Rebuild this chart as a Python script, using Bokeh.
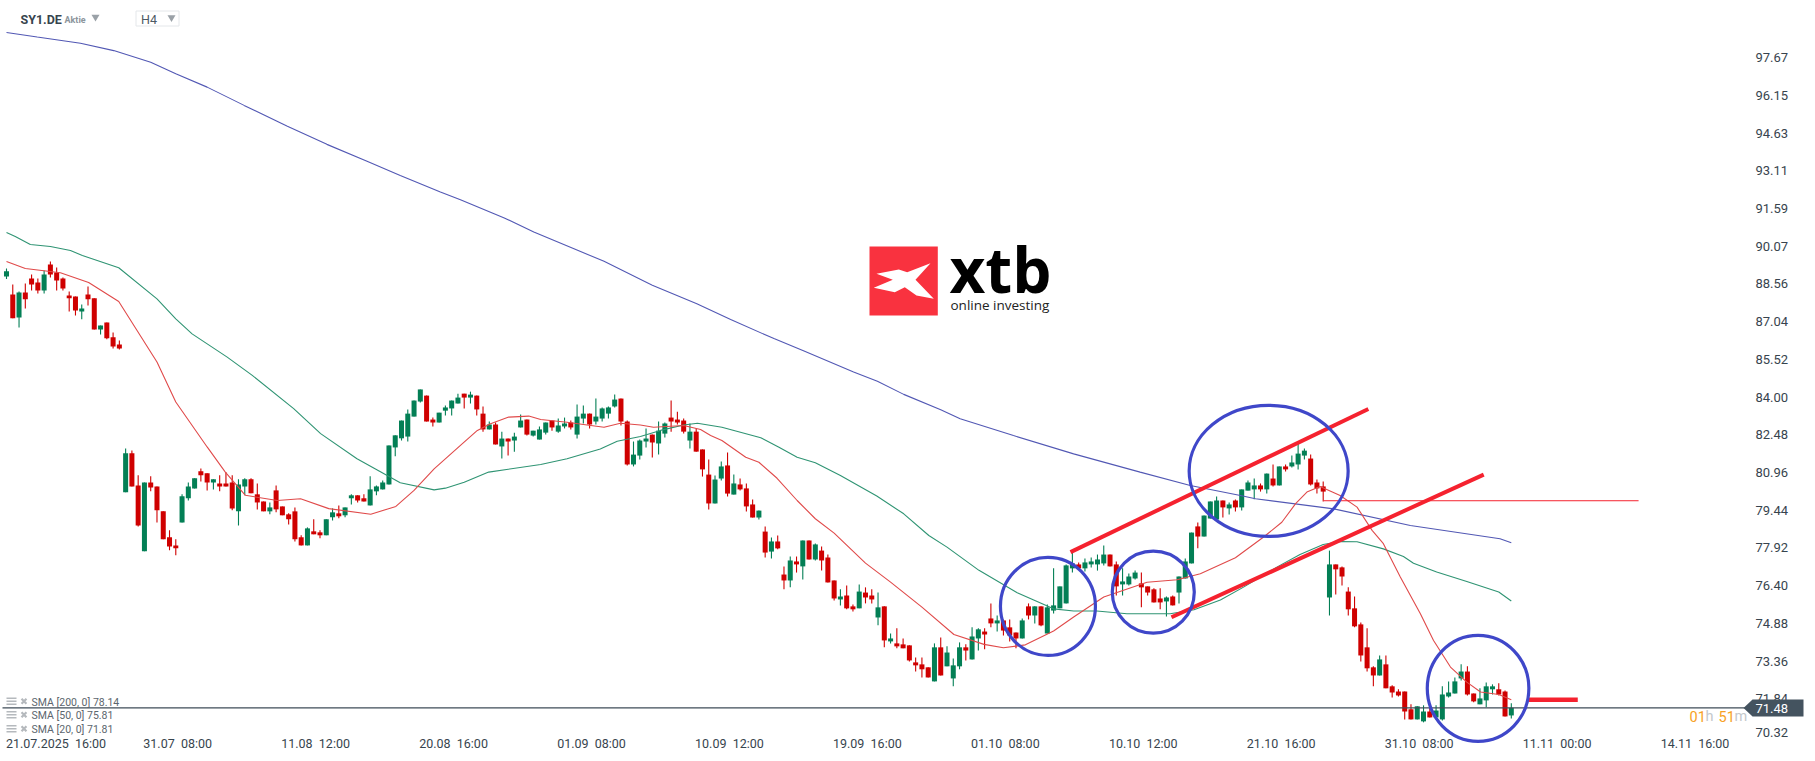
from bokeh.core.properties import value
from bokeh.embed import file_html
from bokeh.resources import INLINE
from bokeh.plotting import figure
from bokeh.models import FixedTicker, Label

symbol = "SY1.DE"
last_price = 71.48

opens = [88.96,88.23,87.30,88.31,88.88,88.71,88.39,89.44,89.12,88.88,
88.19,88.15,87.54,88.23,88.07,86.81,87.09,86.49,86.20,80.21,
81.79,80.49,77.82,80.61,80.45,79.44,78.39,78.06,78.99,79.97,
80.37,81.06,80.98,80.61,80.57,80.57,80.61,79.44,80.45,80.74,
80.13,79.84,79.44,80.29,79.64,79.32,79.44,78.39,78.06,78.63,
78.59,78.47,79.20,79.36,79.28,79.97,80.09,79.97,79.68,80.25,
80.33,80.53,82.03,82.40,82.47,83.28,83.89,84.13,83.16,83.04,
83.52,83.61,83.81,84.21,84.05,84.13,83.40,82.76,82.96,82.07,
82.39,82.31,82.84,83.16,82.51,82.35,82.63,83.12,82.67,82.88,
83.04,82.55,83.20,83.40,83.08,83.20,83.40,83.69,84.01,83.08,
81.34,81.70,82.27,82.55,82.19,82.59,83.24,83.16,83.12,82.31,
82.67,81.95,80.93,79.76,80.77,81.30,80.12,80.53,80.37,79.72,
79.19,78.62,77.81,78.22,76.88,76.64,77.41,77.21,78.26,77.49,
77.85,77.57,76.64,75.87,76.03,75.59,75.51,76.15,76.03,75.14,
75.59,74.17,74.09,74.05,74.01,73.32,73.24,73.12,72.55,73.93,
73.16,72.67,73.16,73.93,73.44,74.29,74.57,75.10,74.90,75.02,
74.74,74.53,74.29,75.59,75.22,75.59,74.49,75.42,75.51,75.71,
77.13,77.29,77.13,77.29,77.29,77.33,77.69,77.29,76.48,76.48,
76.72,76.52,76.40,76.28,75.91,75.79,75.99,76.15,76.72,77.33,
78.83,78.42,79.15,79.11,79.88,79.56,79.88,79.60,80.28,80.33,
80.49,80.33,80.77,80.49,81.26,81.26,81.34,81.70,81.58,80.61,
80.45,75.95,77.29,77.17,76.19,75.51,74.86,73.93,73.12,72.79,
73.24,72.35,72.14,72.14,71.42,71.01,70.93,71.33,71.09,71.01,
71.94,72.06,72.67,72.95,72.06,71.62,71.78,72.23,72.23,72.14,71.17]

closes = [89.17,87.26,88.31,88.03,88.63,88.39,89.04,89.04,88.79,88.47,
88.07,87.58,87.66,88.03,86.81,86.97,86.45,86.12,86.04,81.79,
80.45,78.87,80.61,80.41,79.48,78.31,78.02,77.94,80.05,80.45,
80.78,80.90,80.61,80.74,80.45,80.45,79.56,80.53,80.74,80.17,
79.80,79.44,79.60,79.52,79.28,79.12,78.31,78.06,78.75,78.51,
78.47,79.12,79.40,79.24,79.60,80.09,79.88,79.84,80.33,80.45,
80.61,82.11,82.52,83.12,83.40,83.93,84.38,83.08,83.04,83.44,
83.65,83.93,84.05,84.05,84.17,83.57,82.76,82.96,82.15,82.39,
82.27,82.47,83.12,82.55,82.71,82.76,83.04,82.84,82.92,83.00,
82.84,83.28,83.40,82.96,83.28,83.61,83.65,83.97,83.08,81.34,
81.74,82.31,82.39,82.23,82.71,83.00,83.08,83.04,82.67,82.67,
81.86,81.14,79.76,80.73,81.26,80.16,80.57,80.33,79.64,79.19,
79.47,77.77,78.22,77.94,76.64,77.45,77.29,78.26,77.49,78.10,
77.45,76.56,75.91,75.99,75.51,75.47,76.19,75.95,75.87,75.55,
74.21,74.29,73.97,73.89,73.40,73.20,73.04,72.71,73.93,72.79,
73.72,73.20,73.93,73.80,74.37,74.66,74.45,74.90,75.02,74.61,
74.41,74.29,75.02,75.22,75.59,74.82,75.55,75.63,76.40,77.25,
77.33,77.13,77.37,77.41,77.49,77.69,77.21,76.40,76.60,76.80,
76.96,76.36,76.15,75.75,75.75,75.95,75.63,76.80,77.41,78.58,
78.42,79.27,79.84,79.88,79.60,79.72,79.60,80.33,80.61,80.49,
80.33,80.97,80.49,81.26,81.14,81.42,81.78,81.90,80.53,80.37,
80.24,77.29,77.09,76.80,75.47,74.78,73.60,73.08,72.79,73.44,
72.27,72.10,71.98,71.33,71.01,71.54,71.33,71.09,71.37,72.02,
72.10,72.55,72.95,72.02,71.74,71.86,72.35,72.35,72.02,71.13,71.48]

highs = [89.28,88.63,88.35,88.67,89.04,88.88,89.20,89.56,89.32,88.92,
88.35,88.15,87.82,88.55,88.07,86.97,87.09,86.69,86.36,81.99,
81.91,80.90,80.61,80.86,80.45,79.44,78.67,78.31,80.13,80.61,
80.78,81.18,80.98,80.74,80.90,81.02,80.90,80.74,80.78,80.78,
80.57,79.84,79.80,80.49,79.64,79.36,79.60,78.47,78.79,79.12,
78.67,79.12,79.56,79.68,79.60,80.13,80.09,80.13,80.86,80.49,
80.69,82.11,82.52,83.12,83.57,83.93,84.38,84.13,83.24,83.44,
83.73,83.93,84.21,84.21,84.29,84.13,83.69,83.08,83.04,82.67,
82.39,82.63,83.36,83.16,82.71,82.88,83.04,83.12,83.20,83.24,
83.12,83.77,83.73,83.40,84.01,83.65,83.69,84.17,84.01,83.12,
82.27,82.35,82.80,82.55,83.08,83.04,83.93,83.48,83.20,83.00,
82.80,81.95,81.54,80.89,81.46,81.82,80.93,80.77,80.57,79.92,
79.47,78.83,78.38,78.46,77.21,77.61,77.61,78.26,78.26,78.14,
78.02,77.69,76.64,76.28,76.44,75.67,76.48,76.36,76.28,76.15,
75.59,74.49,74.70,74.29,74.01,73.52,73.52,73.12,74.09,74.33,
73.97,73.48,74.13,74.05,74.74,74.70,74.70,75.71,75.22,75.06,
75.06,74.53,75.10,75.71,75.59,75.59,75.67,77.13,76.40,77.29,
77.81,77.37,77.53,77.57,77.69,78.06,77.69,77.41,77.13,76.92,
77.04,76.96,76.40,76.32,76.32,75.99,76.03,76.80,77.53,78.58,
78.99,79.27,79.84,80.04,79.88,79.80,79.92,80.33,80.69,80.77,
80.57,80.97,81.34,81.26,81.34,81.70,82.19,81.99,81.74,80.73,
80.65,77.85,77.29,77.21,76.36,75.99,74.94,74.70,73.16,73.60,
73.60,72.39,72.23,72.14,71.62,71.54,71.58,71.50,71.58,72.35,
72.55,72.71,73.24,73.16,72.06,72.27,72.51,72.43,72.47,72.18,71.66]

lows = [88.85,87.26,86.89,87.66,88.39,88.27,88.27,88.92,88.39,88.39,
87.54,87.38,87.22,87.78,86.81,86.61,86.41,86.04,86.00,80.21,
80.45,78.83,77.82,80.25,78.99,78.31,77.86,77.66,78.99,79.88,
80.37,80.65,80.29,80.33,80.25,80.45,79.48,78.87,80.09,80.17,
79.52,79.44,79.32,79.40,79.28,78.91,78.22,78.06,78.06,78.51,
78.35,78.47,79.07,79.16,79.20,79.72,79.80,79.84,79.68,80.09,
80.33,80.53,81.67,82.31,82.27,83.28,83.85,83.08,82.88,83.04,
83.32,83.32,83.81,83.61,83.81,83.32,82.67,82.76,82.15,81.58,
81.70,81.86,82.84,82.51,82.47,82.35,82.55,82.71,82.63,82.80,
82.76,82.39,83.00,82.80,82.96,83.08,83.20,83.65,82.92,81.30,
81.26,81.54,82.03,81.62,81.74,82.43,82.67,82.96,82.59,81.99,
81.86,80.85,79.52,79.76,80.69,80.04,80.12,80.28,79.43,79.19,
79.11,77.57,77.53,77.90,76.28,76.36,76.96,76.68,77.49,77.45,
77.04,76.56,75.83,75.63,75.47,75.38,75.51,75.71,75.71,74.82,
73.93,74.09,73.89,73.89,73.36,72.95,72.71,72.71,72.55,72.79,
73.16,72.35,73.04,73.40,73.44,73.80,73.85,74.74,74.57,74.41,
74.17,73.89,74.29,75.06,74.90,74.78,74.49,75.30,75.51,75.71,
76.96,77.13,77.00,77.17,77.04,77.25,77.21,76.03,76.03,76.44,
76.68,75.55,76.03,75.75,75.47,75.18,75.63,75.71,76.72,77.33,
77.94,78.42,79.15,79.11,79.19,79.31,79.43,79.47,80.28,79.93,
80.24,80.16,80.45,80.49,81.05,81.22,81.14,81.54,80.49,80.16,
79.84,75.22,76.07,76.44,75.22,74.74,73.36,72.95,72.35,72.79,
72.27,71.90,71.94,71.01,71.01,71.01,70.89,71.09,71.01,70.97,
71.90,72.06,72.59,71.98,71.70,71.62,71.50,72.02,71.98,71.13,71.05]

sma200_bar = [0,4.9,11.8,17.1,23,27,32,37.9,44.8,51.1,57.5,62.8,69.2,72.4,79.3,84.1,90.7,95.3,103,110.1,115.5,122.4,127.2,135.1,138.9,143.1,149,152.1,160.6,170.2,180.8,188.8,196.8,199.2,211.7,223.9,238.2,240]
sma200_val = [98.84,98.66,98.41,98.11,97.64,97.17,96.63,95.89,95.04,94.31,93.63,93.05,92.38,92.07,91.34,90.76,90.06,89.57,88.60,87.85,87.21,86.44,85.94,85.09,84.71,84.18,83.56,83.19,82.51,81.77,81.03,80.49,80.08,79.95,79.54,78.87,78.33,78.17]
sma50_bar = [0,1.4,3.8,7,10.2,12.1,17.9,24,27,29.6,35.2,39.2,45.8,50.1,55.9,62.8,68.2,70,73,76.9,85.2,89.4,94.7,97.4,101.1,104.3,108,110.2,114.1,120.3,123.2,126.1,129,133,138.8,143.1,147.1,150,155.1,161.2,167,170.2,173.9,178.7,185.6,189.4,193.6,197.3,202.6,206.3,210,212.7,215.4,219.6,222.8,224.4,228.1,232.9,238,240]
sma50_val = [90.74,90.58,90.25,90.17,90.01,89.81,89.31,88.05,87.24,86.63,85.69,84.95,83.60,82.59,81.57,80.60,80.31,80.38,80.62,81.03,81.34,81.57,81.97,82.28,82.47,82.72,82.94,83.01,82.85,82.42,82.04,81.63,81.41,80.89,80.06,79.34,78.46,77.99,77.05,76.14,75.49,75.40,75.40,75.29,75.29,75.45,75.85,76.37,77.18,77.69,78.10,78.22,78.21,77.92,77.61,77.34,76.98,76.60,76.17,75.81]
sma20_bar = [0,3,8.6,13.1,17.9,24,27,32,34.9,38.1,43.2,46.9,51.4,58.1,62.1,65,68.2,72.4,75.1,77.2,80.1,83.3,85.2,89.4,92.6,95.3,97.9,101.1,103.2,108,110.7,112.3,114.1,117.9,120,122.9,126.1,129,132,137,141,146,151.1,155.9,159,162.5,167,170.2,175,181.9,186.7,190.4,196,200.5,203.4,205.6,207.4,209.5,212.7,215.4,217.8,219.6,222.3,225.5,227.6,230.3,232.9,235.1,238,240]
sma20_val = [89.56,89.28,89.11,88.71,87.94,85.49,83.87,82.05,81.03,80.09,79.88,79.95,79.55,79.32,79.64,80.29,81.16,82.11,82.72,82.99,83.26,83.30,83.16,83.05,82.94,82.85,83.01,82.94,82.85,82.92,82.76,82.51,82.31,81.63,81.43,80.78,79.88,79.14,78.56,77.34,76.57,75.56,74.45,74.05,73.91,74.03,74.59,75.16,75.97,76.57,76.67,76.91,77.56,78.40,79.00,79.75,80.22,80.45,80.08,79.61,78.67,78.13,76.78,75.29,74.21,73.13,72.52,72.12,72.02,71.81]

price_tick_labels = ["97.67","96.15","94.63","93.11","91.59","90.07","88.56","87.04","85.52","84.00","82.48","80.96","79.44","77.92","76.40","74.88","73.36","71.84","70.32"]
date_tick_labels = ["21.07.2025\u00a0\u00a016:00","31.07\u00a0\u00a008:00","11.08\u00a0\u00a012:00","20.08\u00a0\u00a016:00","01.09\u00a0\u00a008:00","10.09\u00a0\u00a012:00","19.09\u00a0\u00a016:00","01.10\u00a0\u00a008:00","10.10\u00a0\u00a012:00","21.10\u00a0\u00a016:00","31.10\u00a0\u00a008:00","11.11\u00a0\u00a000:00","14.11\u00a0\u00a016:00"]
date_tick_bars = [7.9,27.3,49.3,71.3,93.3,115.3,137.3,159.3,181.3,203.3,225.3,247.3,269.3]
legend_labels = ["SMA [200, 0] 78.14","SMA [50, 0] 75.81","SMA [20, 0] 71.81"]

# layout helpers: pixel position in the window -> chart coordinates
W, H = 1815, 761
BAR0, BARW = 6.0, 6.27
PX_Y0, PPP = 707.3, 0.04052
LABEL_PPP = 0.04029  # vertical spacing of the printed price labels
def X(px): return (px - BAR0) / BARW
def Y(py): return last_price + (PX_Y0 - py) * PPP

p = figure(width=W, height=H, output_backend="svg", toolbar_location=None,
           x_range=(X(0), X(W)), y_range=(Y(H), Y(0)),
           x_axis_location="below", y_axis_location="right",
           min_border=0, margin=(0, 0, 0, 0), outline_line_color=None,
           background_fill_color="white", border_fill_color="white")
p.grid.visible = False

INK = "#37444e"
p.yaxis.fixed_location = X(1755)
# the lowest label sits a little higher than its level, to clear the price tag
label_px = [PX_Y0 - (float(v) - last_price) / LABEL_PPP for v in price_tick_labels]
label_px[-1] = 731.7
tick_pos = [round(Y(v), 3) for v in label_px]
p.yaxis.ticker = FixedTicker(ticks=tick_pos)
p.yaxis.major_label_overrides = {t: s for t, s in zip(tick_pos, price_tick_labels)}
p.xaxis.fixed_location = Y(735)
p.xaxis.ticker = FixedTicker(ticks=date_tick_bars)
p.xaxis.major_label_overrides = {t: s for t, s in zip(date_tick_bars, date_tick_labels)}
for ax in (p.xaxis, p.yaxis):
    ax.axis_line_color = None
    ax.major_tick_line_color = None
    ax.minor_tick_line_color = None
    ax.major_tick_out = 0
    ax.major_tick_in = 0
    ax.minor_tick_out = 0
    ax.minor_tick_in = 0
    ax.major_label_standoff = 0
    ax.major_label_text_font = "Roboto"
    ax.major_label_text_color = INK
p.xaxis.major_label_text_font_size = "12.5px"
p.yaxis.major_label_text_font_size = "13px"

GREEN, RED = "#037f55", "#cf0000"
bars = list(range(len(opens)))
wick_col = [GREEN if c >= o else RED for o, c in zip(opens, closes)]
p.segment(bars, lows, bars, highs, line_color=wick_col, line_width=1.1)
p.vbar(bars, width=0.8, bottom=opens, top=closes, fill_color=wick_col, line_color=None)

p.line(sma200_bar, sma200_val, line_color="#5258b4", line_width=1.1)
p.line(sma50_bar, sma50_val, line_color="#2f9473", line_width=1.1)
p.line(sma20_bar, sma20_val, line_color="#e04a4a", line_width=1.1)

# price line and trader's annotations
p.line([X(2), X(1745)], [last_price, last_price], line_color="#3f4d58", line_width=1.2)
ANN_RED = "#f5222f"
p.line([169.7, 217.2], [77.79, 83.59], line_color=ANN_RED, line_width=4)
p.line([185.8, 235.6], [75.15, 80.93], line_color=ANN_RED, line_width=4)
p.line([210.1, 260.3], [79.87, 79.87], line_color=ANN_RED, line_width=1)
p.line([242.8, 250.6], [71.81, 71.81], line_color=ANN_RED, line_width=4.5)
ellipse_bar = [166.1, 182.9, 201.3, 234.7]
ellipse_price = [75.59, 76.17, 81.08, 72.27]
p.ellipse(ellipse_bar, ellipse_price, width=[95, 82, 159, 101.6], height=[98, 82, 131, 106],
          width_units="screen", height_units="screen",
          fill_color=None, line_color="#3f47c9", line_width=3.2)

# logo
p.quad(left=X(869), right=X(937.3), top=Y(246), bottom=Y(315), fill_color="#f9323f", line_color=None)
lx = [876, 898.3, 906.7, 930, 915, 933.3, 916, 904.3, 894.3, 873.3, 892.3]
ly = [273.3, 269, 271.7, 262.7, 279.3, 298.3, 295, 286.7, 291.7, 287.3, 279.3]
p.patch([X(v) for v in lx], [Y(v) for v in ly], fill_color="white", line_color=None)
def text(px, py, s, size, color="#37444e", font="Roboto", style="normal", align="left", baseline="middle"):
    p.text([X(px)], [Y(py)], text=[s], text_font=value(font), text_font_size=size, text_color=color,
           text_font_style=style, text_align=align, text_baseline=baseline)
text(949, 268, "xtb", "62px", "#000000", "Open Sans", "bold")
text(950, 304, "online investing", "13.5px", "#222222", "Open Sans")

# header
text(20, 19, symbol, "12.5px", "#37444e", style="bold")
text(64, 19.5, "Aktie", "9px", "#8c959c", style="bold")
p.scatter([X(95)], [Y(16.5)], marker="inverted_triangle", size=8, fill_color="#9aa1a7", line_color=None)
p.quad(left=X(135.5), right=X(178.5), top=Y(10.5), bottom=Y(25.5), fill_color="white", line_color="#e4e7ea", line_width=1)
text(140.5, 19, "H4", "12.5px", "#4d5a64")
p.scatter([X(171)], [Y(17)], marker="inverted_triangle", size=8, fill_color="#9aa1a7", line_color=None)

# indicator list
for py, s in zip([701.7, 715.3, 729.3], legend_labels):
    text(31, py, s, "10.5px", "#5c666e")
    for dy in (-3, 0, 3):
        p.segment([X(6)], [Y(py - 1 + dy)], [X(16)], [Y(py - 1 + dy)], line_color="#b5b9bd", line_width=1.6)
    p.scatter([X(23.5)], [Y(py - 1)], marker="x", size=7, line_color="#b5b9bd", line_width=2.2)

# countdown
text(1689, 716, "01", "14.5px", "#f7a125")
text(1705, 716, "h", "14.5px", "#c4c8cb")
text(1718, 716, "51", "14.5px", "#f7a125")
text(1734, 716, "m", "14.5px", "#c4c8cb")

# current price tag
p.patch([X(1743), X(1752), X(1803), X(1803), X(1752)],
        [Y(707.5), Y(699), Y(699), Y(716), Y(716)],
        fill_color="#44535f", line_color=None, level="overlay")
tag = Label(x=X(1755), y=Y(707.7), text="71.48", text_font="Roboto", text_font_size="13px",
            text_color="white", text_baseline="middle", text_align="left", level="overlay")
p.add_layout(tag)

open("out.html", "w").write(file_html(p, INLINE))
